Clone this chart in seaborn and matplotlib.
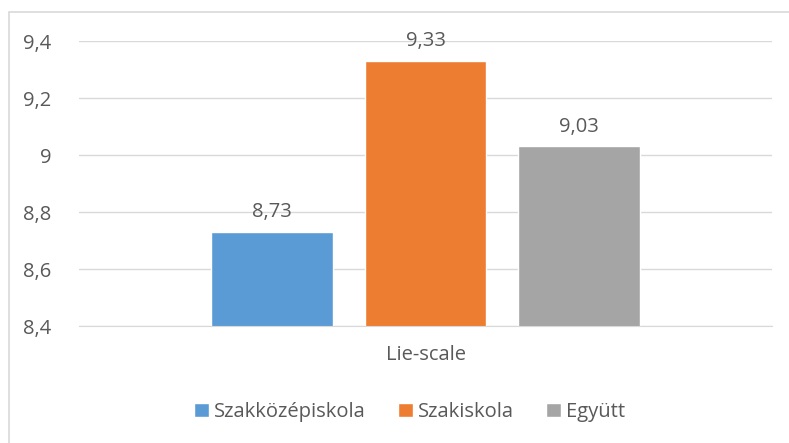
import pandas as pd
import seaborn as sns
import matplotlib.pyplot as plt
from matplotlib.patches import Rectangle

# Adatok
category = ["Lie-scale"]
groups = ["Szakközépiskola", "Szakiskola", "Együtt"]
values = [8.73, 9.33, 9.03]
colors = ["#5b9bd5", "#ed7d31", "#a5a5a5"]
yticks = [8.4, 8.6, 8.8, 9.0, 9.2, 9.4]

df = pd.DataFrame({"cat": category * len(groups), "group": groups, "value": values})

sns.set_style("white")
plt.rcParams["font.family"] = ["Open Sans", "DejaVu Sans"]
text_color = "#595959"
fs = 14.5

fig = plt.figure(figsize=(7.89, 4.43), dpi=100)
ax = fig.add_axes([0.1001, 0.2641, 0.8784, 0.6433])

sns.barplot(data=df, x="cat", y="value", hue="group", palette=colors,
            width=0.665, gap=0.21, saturation=1, ax=ax)

for c in ax.containers:
    ax.bar_label(c, labels=[f"{v:.2f}".replace(".", ",") for v in c.datavalues],
                 padding=7, fontsize=fs, color=text_color)

ax.set_ylim(8.4, 9.4)
ax.set_yticks(yticks)
ax.set_yticklabels([f"{t:g}".replace(".", ",") for t in yticks])
ax.yaxis.grid(True, color="#d9d9d9", linewidth=1)
ax.set_axisbelow(True)
ax.tick_params(axis="both", length=0, labelsize=fs, labelcolor=text_color)
ax.tick_params(axis="y", pad=20)
ax.tick_params(axis="x", pad=14)
ax.set_xlabel("")
ax.set_ylabel("")
for s in ["top", "right", "left"]:
    ax.spines[s].set_visible(False)
ax.spines["bottom"].set_color("#d9d9d9")

sns.move_legend(ax, "center", bbox_to_anchor=(0.519, 0.07), bbox_transform=fig.transFigure,
                ncol=3, frameon=False, title=None, fontsize=fs,
                handlelength=0.75, handleheight=0.75, handletextpad=0.25, columnspacing=1.6)
for t in ax.get_legend().get_texts():
    t.set_color(text_color)

# keret: csak a bal es felso el latszik
fig.patches.append(Rectangle((9 / 789, -0.1), 1.0, 1.1 - 12 / 443,
                             transform=fig.transFigure, fill=False,
                             edgecolor="#d9d9d9", linewidth=1.2))

fig.savefig("out.png", dpi=100)
